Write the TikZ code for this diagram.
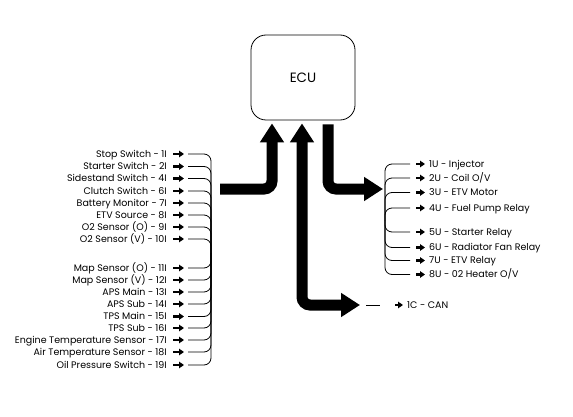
\documentclass[tikz,border=0pt]{standalone}
\usepackage{fontspec}
\setmainfont{Poppins}
\usetikzlibrary{arrows.meta}
\begin{document}
\begin{tikzpicture}[x=1pt,y=-1pt,
  lbl/.style={font=\fontsize{9.5}{11}\selectfont, inner sep=0pt, text height=6.7pt, text depth=0pt},
  sarr/.style={line width=2.2pt, -{Triangle[length=5pt,width=6.5pt]}},
  brk/.style={line width=0.8pt, rounded corners=7pt},
  fat/.style={line width=11pt, rounded corners=8pt, -{Triangle[width=23pt,length=19pt]}},
  fatboth/.style={line width=11pt, rounded corners=8pt, {Triangle[width=23pt,length=19pt]}-{Triangle[width=23pt,length=19pt]}},
  ecubox/.style={draw, line width=0.8pt, rounded corners=15pt, minimum width=104pt, minimum height=85pt, font=\fontsize{13.5}{16}\selectfont}]
\useasboundingbox (0,0) rectangle (573,417);

\node[ecubox] (ecu) at (303,77.5) {ECU};

\coordinate (lmid) at (211,253);
\coordinate (rmid) at (385,220);

\foreach \y/\t [count=\i] in {154/Stop Switch - 1I, 166.5/Starter Switch - 2I, 178.5/Sidestand Switch - 4I, 191/Clutch Switch - 6I, 203/Battery Monitor - 7I, 215/ETV Source - 8I, 227/O2 Sensor (O) - 9I, 239/O2 Sensor (V) - 10I, 268/Map Sensor (O) - 11I, 280/Map Sensor (V) - 12I, 292/APS Main - 13I, 304/APS Sub - 14I, 316.5/TPS Main - 15I, 328/TPS Sub - 16I, 340/Engine Temperature Sensor - 17I, 352/Air Temperature Sensor - 18I, 365/Oil Pressure Switch - 19I}{
  \node[lbl, anchor=east] (L\i) at (167,\y) {\t};
  \draw[sarr] ([xshift=6pt]L\i.east) -- ++(11,0);
  \draw[brk] ([xshift=21pt]L\i.east) -| (lmid);
}

\foreach \y/\t [count=\i] in {164/{1U - Injector}, 178/{2U - Coil O/V}, 192.5/{3U - ETV Motor}, 208/{4U - Fuel Pump Relay}, 232/{5U - Starter Relay}, 247.5/{6U - Radiator Fan Relay}, 260.5/{7U - ETV Relay}, 274.5/{8U - 02 Heater O/V}}{
  \node[lbl, anchor=west] (R\i) at (429,\y) {\t};
  \draw[sarr] ([xshift=-13pt]R\i.west) -- ++(9,0);
  \draw[brk] ([xshift=-19pt]R\i.west) -| (rmid);
}

\node[lbl, anchor=west] (can) at (407,305) {1C - CAN};
\draw[sarr] ([xshift=-12pt]can.west) -- ++(8,0);
\draw[line width=0.8pt] ([xshift=-41pt]can.west) -- ++(14,0);

\coordinate (inL) at (220,189);
\coordinate (outTip) at (383,189);
\coordinate (canTip) at (360,305);

\draw[fat] (inL) -| ([xshift=-31pt,yshift=-3pt]ecu.south);
\draw[fatboth] ([xshift=-1pt,yshift=-3pt]ecu.south) |- (canTip);
\draw[fat] ([xshift=25pt,yshift=-4pt]ecu.south) |- (outTip);
\end{tikzpicture}
\end{document}
